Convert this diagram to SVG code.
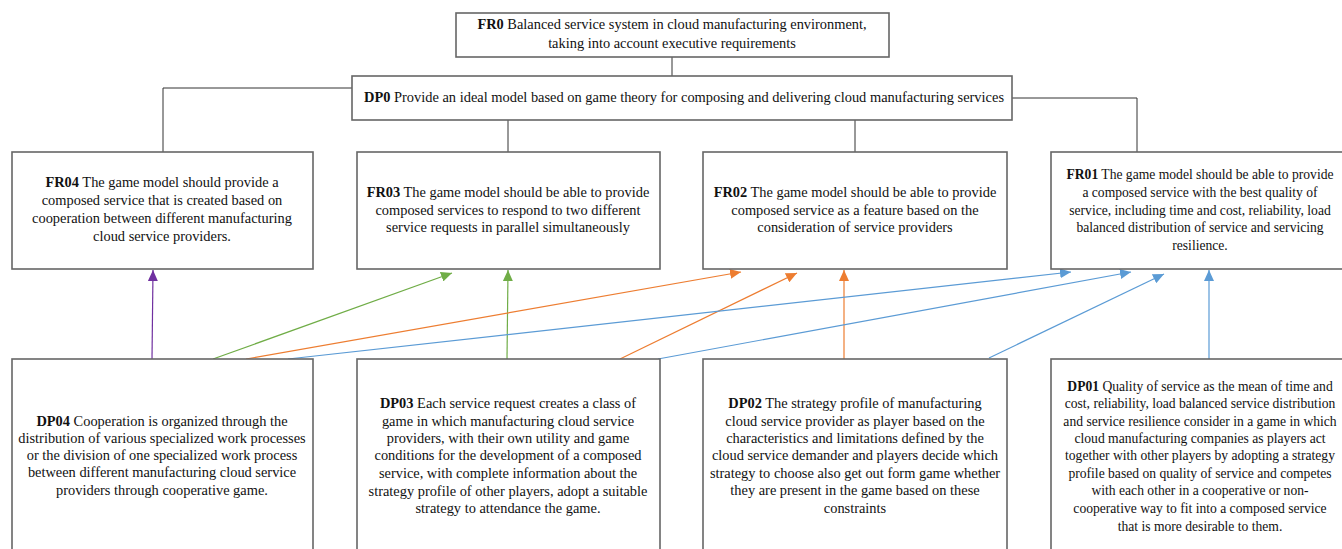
<svg xmlns="http://www.w3.org/2000/svg" width="1342" height="549" viewBox="0 0 1342 549">
<style>
.box{fill:#fff;stroke:#666;stroke-width:1.6}
.t{font-family:"Liberation Serif","Times New Roman",serif;font-size:14.4px;fill:#111;text-anchor:middle}
.s{font-size:13.6px}
.b{font-weight:bold}
.tree{fill:none;stroke:#333;stroke-width:1}
.a{fill:none;stroke-width:1.2}
</style>
<defs>
<marker id="mp" markerUnits="userSpaceOnUse" markerWidth="11" markerHeight="10" refX="11" refY="5" orient="auto"><path d="M0,0 L11,5 L0,10 z" fill="#7030A0"/></marker>
<marker id="mg" markerUnits="userSpaceOnUse" markerWidth="11" markerHeight="10" refX="11" refY="5" orient="auto"><path d="M0,0 L11,5 L0,10 z" fill="#70AD47"/></marker>
<marker id="mo" markerUnits="userSpaceOnUse" markerWidth="11" markerHeight="10" refX="11" refY="5" orient="auto"><path d="M0,0 L11,5 L0,10 z" fill="#ED7D31"/></marker>
<marker id="mb" markerUnits="userSpaceOnUse" markerWidth="11" markerHeight="10" refX="11" refY="5" orient="auto"><path d="M0,0 L11,5 L0,10 z" fill="#5B9BD5"/></marker>
</defs>
<rect width="1342" height="549" fill="#fff"/>

<g id="connectors">
<path class="tree" d="M672,57 V76"/>
<path class="tree" d="M352,88 H163 V152"/>
<path class="tree" d="M1012,98 H1137 V152"/>
<path class="tree" d="M508,120 V152"/>
<path class="tree" d="M855,120 V152"/>
<path class="a" stroke="#7030A0" d="M152,359 L153,270" marker-end="url(#mp)"/>
<path class="a" stroke="#70AD47" d="M213,359 L452,273" marker-end="url(#mg)"/>
<path class="a" stroke="#70AD47" d="M507,359 L508,270" marker-end="url(#mg)"/>
<path class="a" stroke="#ED7D31" d="M246,359 L741,272" marker-end="url(#mo)"/>
<path class="a" stroke="#ED7D31" d="M620,359 L797,273" marker-end="url(#mo)"/>
<path class="a" stroke="#ED7D31" d="M844,359 L844,270" marker-end="url(#mo)"/>
<path class="a" stroke="#5B9BD5" d="M288,359 L1071,272" marker-end="url(#mb)"/>
<path class="a" stroke="#5B9BD5" d="M658,359 L1131,272" marker-end="url(#mb)"/>
<path class="a" stroke="#5B9BD5" d="M989,358 L1164,274" marker-end="url(#mb)"/>
<path class="a" stroke="#5B9BD5" d="M1209,359 L1209,270" marker-end="url(#mb)"/>
</g>

<g id="FR0">
<rect class="box" x="456" y="13" width="433" height="44"/>
<text class="t" x="672" y="29"><tspan class="b">FR0</tspan>  Balanced  service system in cloud manufacturing environment,</text>
<text class="t" x="672" y="48">taking into account executive requirements</text>
</g>

<g id="DP0">
<rect class="box" x="352" y="76" width="660" height="44"/>
<text class="t" x="684" y="102" textLength="640" lengthAdjust="spacingAndGlyphs"><tspan class="b">DP0</tspan> Provide an ideal model based on game theory for composing and delivering cloud manufacturing services</text>
</g>

<g id="FR04">
<rect class="box" x="12" y="152" width="301" height="117"/>
<text class="t" x="162" y="187"><tspan class="b">FR04</tspan> The game model should provide a</text>
<text class="t" x="162" y="205">composed service that is created based on</text>
<text class="t" x="162" y="223">cooperation between different manufacturing</text>
<text class="t" x="162" y="241">cloud service providers.</text>
</g>

<g id="FR03">
<rect class="box" x="357" y="152" width="303" height="117"/>
<text class="t" x="508" y="197"><tspan class="b">FR03</tspan> The game model should be able to provide</text>
<text class="t" x="508" y="215">composed services to respond to two different</text>
<text class="t" x="508" y="232">service requests in parallel simultaneously</text>
</g>

<g id="FR02">
<rect class="box" x="703" y="152" width="304" height="117"/>
<text class="t" x="855" y="197"><tspan class="b">FR02</tspan> The game model should be able to provide</text>
<text class="t" x="855" y="215">composed service as a feature based on the</text>
<text class="t" x="855" y="232">consideration of service providers</text>
</g>

<g id="FR01">
<rect class="box" x="1051" y="152" width="310" height="117"/>
<text class="t s" x="1200" y="179"><tspan class="b">FR01</tspan>  The game model should be able to provide</text>
<text class="t s" x="1200" y="197">a composed service with the best quality of</text>
<text class="t s" x="1200" y="215">service, including time and cost, reliability, load</text>
<text class="t s" x="1200" y="232">balanced distribution of service and servicing</text>
<text class="t s" x="1200" y="250">resilience.</text>
</g>

<g id="DP04">
<rect class="box" x="12" y="359" width="301" height="200"/>
<text class="t" x="162" y="426"><tspan class="b">DP04</tspan> Cooperation is organized through the</text>
<text class="t" x="162" y="443">distribution of various specialized work processes</text>
<text class="t" x="162" y="460">or the division of one specialized work process</text>
<text class="t" x="162" y="477">between different manufacturing cloud service</text>
<text class="t" x="162" y="495">providers through cooperative game.</text>
</g>

<g id="DP03">
<rect class="box" x="357" y="359" width="303" height="200"/>
<text class="t" x="508" y="408"><tspan class="b">DP03</tspan> Each service request creates a class of</text>
<text class="t" x="508" y="426">game in which manufacturing cloud service</text>
<text class="t" x="508" y="443">providers, with their own utility and game</text>
<text class="t" x="508" y="460">conditions for the development of a composed</text>
<text class="t" x="508" y="478">service, with complete information about the</text>
<text class="t" x="508" y="496">strategy profile of other players, adopt a suitable</text>
<text class="t" x="508" y="513">strategy to attendance the game.</text>
</g>

<g id="DP02">
<rect class="box" x="703" y="359" width="304" height="200"/>
<text class="t" x="855" y="408"><tspan class="b">DP02</tspan> The strategy profile of manufacturing</text>
<text class="t" x="855" y="426">cloud service provider as player based on the</text>
<text class="t" x="855" y="443">characteristics and limitations defined by the</text>
<text class="t" x="855" y="460">cloud service demander and players decide which</text>
<text class="t" x="855" y="478">strategy to choose also get out form game whether</text>
<text class="t" x="855" y="495">they are present in the game based on these</text>
<text class="t" x="855" y="513">constraints</text>
</g>

<g id="DP01">
<rect class="box" x="1051" y="359" width="310" height="200"/>
<text class="t s" x="1200" y="391"><tspan class="b">DP01</tspan>  Quality of service as the mean of time and</text>
<text class="t s" x="1200" y="408">cost, reliability, load balanced service distribution</text>
<text class="t s" x="1200" y="426">and service resilience consider in a game in which</text>
<text class="t s" x="1200" y="443">cloud manufacturing companies as players act</text>
<text class="t s" x="1200" y="460">together with other players by adopting a strategy</text>
<text class="t s" x="1200" y="478">profile based on quality of service and competes</text>
<text class="t s" x="1200" y="495">with each other in a cooperative or non-</text>
<text class="t s" x="1200" y="513">cooperative way to fit into a composed service</text>
<text class="t s" x="1200" y="531">that is more desirable to them.</text>
</g>
</svg>
